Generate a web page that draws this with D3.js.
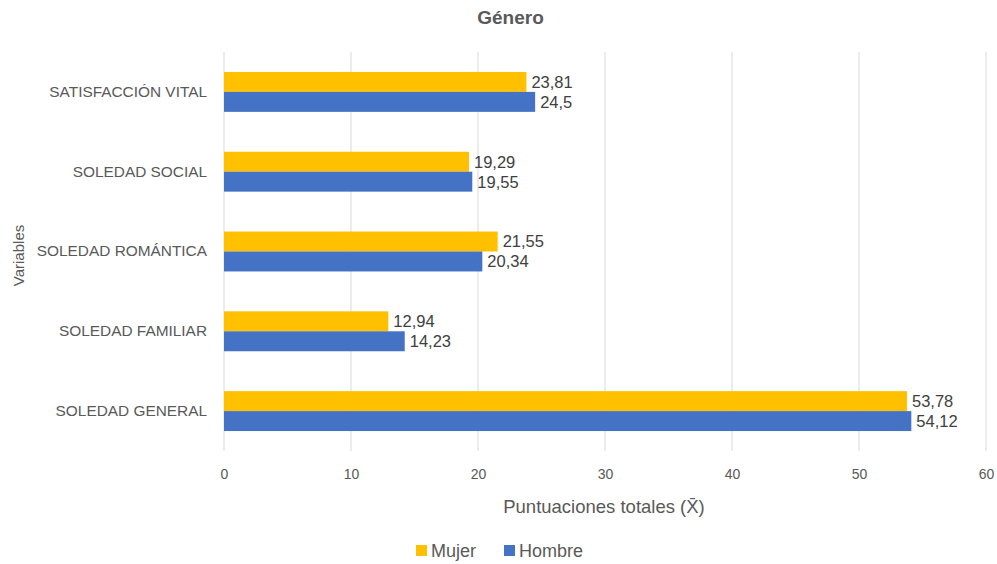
<!DOCTYPE html>
<html>
<head>
<meta charset="utf-8">
<script src="https://cdn.jsdelivr.net/npm/d3@7"></script>
<style>
  body { margin: 0; background: #fff; }
  text { font-family: "Liberation Sans", Arial, sans-serif; }
</style>
</head>
<body>
<div id="chart"></div>
<script>
// chart data
const categories = ["SATISFACCIÓN VITAL", "SOLEDAD SOCIAL", "SOLEDAD ROMÁNTICA", "SOLEDAD FAMILIAR", "SOLEDAD GENERAL"];
const seriesNames = ["Mujer", "Hombre"];
const mujer = [23.81, 19.29, 21.55, 12.94, 53.78];
const hombre = [24.5, 19.55, 20.34, 14.23, 54.12];
const xTicks = [0, 10, 20, 30, 40, 50, 60];
const colors = ["#FFC000", "#4472C4"];

const W = 997, H = 564;
const margin = {top: 52, right: 11, bottom: 113, left: 224};
const width = W - margin.left - margin.right;
const height = H - margin.top - margin.bottom;

const svg = d3.select("#chart").append("svg")
  .attr("width", W)
  .attr("height", H);

const plot = svg.append("g")
  .attr("transform", "translate(" + margin.left + "," + margin.top + ")");

const x = d3.scaleLinear().domain([0, 60]).range([0, width]);
const y = d3.scaleBand().domain(categories).range([0, height]).paddingInner(0.5).paddingOuter(0.25);
const sub = d3.scaleBand().domain(seriesNames).range([0, y.bandwidth()]);

// gridlines
plot.selectAll(".grid")
  .data(xTicks)
  .enter().append("line")
  .attr("x1", d => x(d)).attr("x2", d => x(d))
  .attr("y1", 0).attr("y2", height)
  .attr("stroke", "#d9d9d9")
  .attr("stroke-width", 1);

// x tick labels
const xAxis = d3.axisBottom(x).tickValues(xTicks).tickSize(0).tickPadding(18);
const gx = plot.append("g")
  .attr("transform", "translate(0," + height + ")")
  .call(xAxis);
gx.select(".domain").remove();
gx.selectAll("text")
  .attr("font-size", 14)
  .attr("fill", "#595959")
  .style("font-family", "Liberation Sans, Arial, sans-serif");

// y labels
const yAxis = d3.axisLeft(y).tickSize(0).tickPadding(17);
const gy = plot.append("g").call(yAxis);
gy.select(".domain").remove();
gy.selectAll("text")
  .attr("font-size", 15.4)
  .attr("fill", "#595959")
  .style("font-family", "Liberation Sans, Arial, sans-serif");

// bars
const rows = categories.map((c, i) => ({cat: c, vals: [mujer[i], hombre[i]]}));
const groups = plot.selectAll(".row")
  .data(rows)
  .enter().append("g")
  .attr("transform", d => "translate(0," + y(d.cat) + ")");

groups.selectAll("rect")
  .data(d => d.vals.map((v, j) => ({name: seriesNames[j], v: v, j: j})))
  .enter().append("rect")
  .attr("x", x(0))
  .attr("y", d => sub(d.name))
  .attr("width", d => x(d.v) - x(0))
  .attr("height", sub.bandwidth())
  .attr("fill", d => colors[d.j]);

groups.selectAll(".val")
  .data(d => d.vals.map((v, j) => ({name: seriesNames[j], v: v, j: j})))
  .enter().append("text")
  .attr("x", d => x(d.v) + 5)
  .attr("y", d => sub(d.name) + sub.bandwidth() / 2)
  .attr("dy", "0.36em")
  .attr("font-size", 16.5)
  .attr("fill", "#404040")
  .text(d => String(d.v).replace(".", ","));

// title
svg.append("text")
  .attr("x", W / 2 + 12).attr("y", 24)
  .attr("text-anchor", "middle")
  .attr("font-size", 19)
  .attr("font-weight", "bold")
  .attr("fill", "#595959")
  .text("Género");

// axis titles
svg.append("text")
  .attr("x", margin.left + width / 2 - 1).attr("y", 513)
  .attr("text-anchor", "middle")
  .attr("font-size", 18.5)
  .attr("fill", "#595959")
  .text("Puntuaciones totales (X\u0304)");

svg.append("text")
  .attr("transform", "translate(24," + (margin.top + height / 2 + 4) + ") rotate(-90)")
  .attr("text-anchor", "middle")
  .attr("font-size", 15)
  .attr("fill", "#595959")
  .text("Variables");

// legend
const legend = svg.append("g").attr("transform", "translate(416,545)");
const lx = [0, 88];
seriesNames.forEach((n, i) => {
  legend.append("rect")
    .attr("x", lx[i]).attr("y", 0)
    .attr("width", 11).attr("height", 11)
    .attr("fill", colors[i]);
  legend.append("text")
    .attr("x", lx[i] + 15).attr("y", 6)
    .attr("dy", "0.36em")
    .attr("font-size", 18)
    .attr("fill", "#595959")
    .text(n);
});
</script>
</body>
</html>
